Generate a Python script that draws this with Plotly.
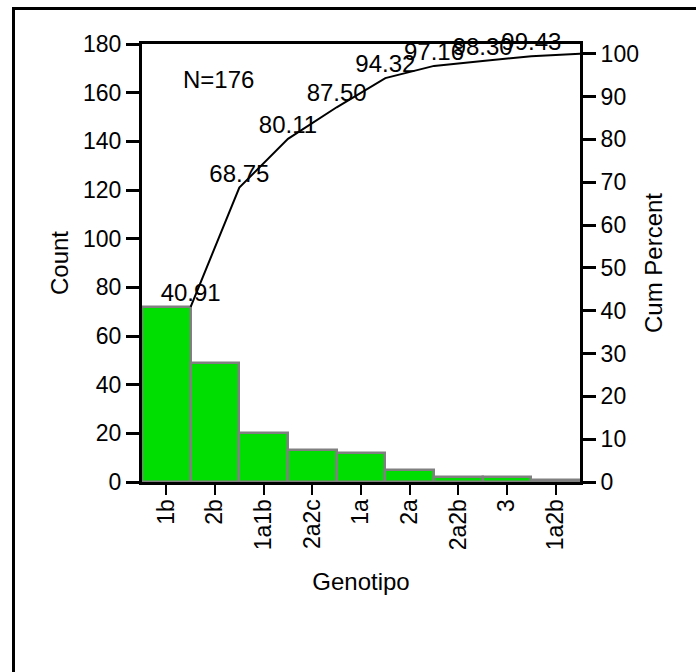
import numpy as np
import plotly.graph_objects as go

categories = ["1b", "2b", "1a1b", "2a2c", "1a", "2a", "2a2b", "3", "1a2b"]
counts = [72, 49, 20, 13, 12, 5, 2, 2, 1]
left_ticks = [0, 20, 40, 60, 80, 100, 120, 140, 160, 180]
right_ticks = [0, 10, 20, 30, 40, 50, 60, 70, 80, 90, 100]

N = sum(counts)
cum_pct = list(np.cumsum(counts) / N * 100)
labels = [f"{v:.2f}" for v in cum_pct[:-1]] + [""]

W, H = 696, 672
L, R, T, B = 142, 580, 44, 482
pw, ph = R - L, B - T

def px(x):
    return (x - L) / pw

def py(y):
    return (B - y) / ph

idx = list(range(len(categories)))
FS = 23

fig = go.Figure()
fig.add_trace(go.Bar(
    x=idx, y=counts, width=1,
    marker=dict(color="#00DD00", line=dict(color="#808080", width=2.5)),
    hoverinfo="x+y",
))
fig.add_trace(go.Scatter(
    x=[i + 0.5 for i in idx], y=cum_pct, yaxis="y2",
    mode="lines+text", line=dict(color="black", width=2),
    text=labels, textposition="top center",
    textfont=dict(size=24, color="black"),
    cliponaxis=False,
))

axis_common = dict(
    showline=True, linewidth=3, linecolor="black",
    ticks="outside", tickcolor="black", showgrid=False, zeroline=False,
    tickfont=dict(size=FS, color="black"),
)

fig.update_layout(
    width=W, height=H,
    margin=dict(l=L, r=W - R, t=T, b=H - B, pad=0),
    plot_bgcolor="white", paper_bgcolor="white",
    showlegend=False, bargap=0,
    font=dict(family="Liberation Sans, Arial, sans-serif", size=FS, color="black"),
    xaxis=dict(
        range=[-0.5, len(categories) - 0.5],
        tickvals=idx, ticktext=categories, tickangle=-90,
        ticklen=10, tickwidth=2, mirror=True, ticklabelstandoff=-5,
        title=dict(text="Genotipo", font=dict(size=24), standoff=24),
        **axis_common,
    ),
    yaxis=dict(
        range=[0, 180], tickvals=left_ticks,
        ticklen=13, tickwidth=3,
        title=dict(text="Count", font=dict(size=24), standoff=8),
        **axis_common,
    ),
    yaxis2=dict(
        range=[0, 180 / N * 100], tickvals=right_ticks,
        overlaying="y", side="right",
        ticklen=13, tickwidth=3,
        title=dict(text="Cum Percent", font=dict(size=24), standoff=8),
        **axis_common,
    ),
    annotations=[dict(
        text="N=176", xref="paper", yref="paper",
        x=px(218), y=py(79), xanchor="center", yanchor="middle",
        showarrow=False,
        font=dict(size=24, color="black"),
    )],
    shapes=[dict(
        type="rect", xref="paper", yref="paper",
        x0=px(13.5), x1=px(720), y0=py(700), y1=py(8.5),
        line=dict(color="black", width=3), fillcolor="rgba(0,0,0,0)",
        layer="above",
    )],
)

fig.write_html("out.html")
